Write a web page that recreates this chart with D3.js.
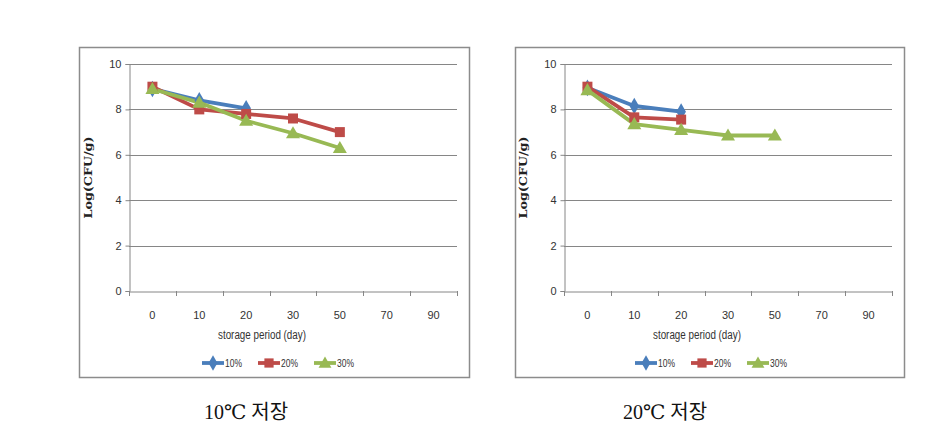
<!DOCTYPE html>
<html><head><meta charset="utf-8">
<script src="https://cdn.jsdelivr.net/npm/d3@7"></script>
<style>
html,body{margin:0;padding:0;background:#fff;}
svg{display:block;}
</style></head>
<body>
<svg id="c" width="936" height="429"></svg>
<script>
const categories = ["0","10","20","30","50","70","90"];
const yTicks = [0,2,4,6,8,10];
const seriesNames = ["10%","20%","30%"];
const seriesColors = ["#4a7ebb","#be4b48","#98b954"];
const seriesShapes = ["diamond","square","triangle"];
// 10℃ storage
const left10 = [8.9, 8.4, 8.05];
const left20 = [9.0, 8.0, 7.8, 7.6, 7.0];
const left30 = [8.9, 8.3, 7.5, 6.95, 6.3];
// 20℃ storage
const right10 = [8.95, 8.15, 7.9];
const right20 = [9.0, 7.65, 7.55];
const right30 = [8.85, 7.35, 7.1, 6.85, 6.85];
const captions = ["10℃ 저장","20℃ 저장"];
const yTitle = "Log(CFU/g)";
const xTitle = "storage period (day)";

const svg = d3.select("#c");
const symMap = {diamond:d3.symbolDiamond, square:d3.symbolSquare, triangle:d3.symbolTriangle};
const symSize = {diamond:80, square:100, triangle:85};
const narrow = "'Liberation Sans Narrow','Arial Narrow','Liberation Sans',sans-serif";

function drawChart(cfg, data){
  const g = svg.append("g");
  g.append("rect").attr("x",cfg.bx0+0.5).attr("y",cfg.by0+0.5)
    .attr("width",cfg.bx1-cfg.bx0).attr("height",cfg.by1-cfg.by0)
    .attr("fill","#fff").attr("stroke","#8c8c8c").attr("stroke-width",1.5);
  const x = d3.scaleBand().domain(categories).range([cfg.pl,cfg.pr]).padding(0);
  const y = d3.scaleLinear().domain([0,10]).range([cfg.pb,cfg.pt]);
  // gridlines
  g.append("g").selectAll("line").data(yTicks.filter(d=>d>0)).join("line")
    .attr("x1",cfg.pl).attr("x2",cfg.pr)
    .attr("y1",d=>Math.round(y(d))+0.5).attr("y2",d=>Math.round(y(d))+0.5)
    .attr("stroke","#868686").attr("stroke-width",1);
  // y axis
  const ya = g.append("g").attr("transform",`translate(${cfg.pl+0.5},0)`)
    .call(d3.axisLeft(y).tickValues(yTicks).tickSize(4).tickPadding(4));
  ya.select(".domain").attr("stroke","#868686");
  ya.selectAll(".tick line").attr("stroke","#868686");
  ya.selectAll("text").attr("font-family",narrow).attr("font-size",11).attr("fill","#333");
  // x axis
  const xa = g.append("g").attr("transform",`translate(0,${Math.round(cfg.pb)+0.5})`)
    .call(d3.axisBottom(x).tickSize(0).tickPadding(20));
  xa.select(".domain").attr("stroke","#868686");
  xa.selectAll("text").attr("font-family",narrow).attr("font-size",11).attr("fill","#333");
  // category boundary ticks
  const bounds = categories.map(c=>x(c)).concat([x(categories[categories.length-1])+x.bandwidth()]);
  g.append("g").selectAll("line").data(bounds).join("line")
    .attr("x1",d=>Math.round(d)+0.5).attr("x2",d=>Math.round(d)+0.5)
    .attr("y1",cfg.pb).attr("y2",cfg.pb+5).attr("stroke","#868686");
  // titles
  g.append("text").attr("transform",`translate(${cfg.pl-37},${(cfg.pt+cfg.pb)/2})} rotate(-90)`.replace("}",""))
    .attr("text-anchor","middle").attr("font-family","'DejaVu Serif','Liberation Serif',serif")
    .attr("font-weight","bold").attr("font-size",11).attr("fill","#222")
    .attr("textLength",82).attr("lengthAdjust","spacingAndGlyphs").text(yTitle);
  g.append("text").attr("x",cfg.pl+133).attr("y",cfg.pb+48)
    .attr("text-anchor","middle").attr("font-family",narrow)
    .attr("font-size",12).attr("fill","#333")
    .attr("textLength",88).attr("lengthAdjust","spacingAndGlyphs").text(xTitle);
  // series
  const line = d3.line().x((d,i)=>x(categories[i])+x.bandwidth()/2).y(d=>y(d));
  data.forEach((vals,si)=>{
    g.append("path").datum(vals).attr("d",line).attr("fill","none")
      .attr("stroke",seriesColors[si]).attr("stroke-width",3.8).attr("stroke-linejoin","round");
  });
  data.forEach((vals,si)=>{
    const sh = seriesShapes[si];
    g.append("g").selectAll("path").data(vals).join("path")
      .attr("transform",(d,i)=>`translate(${x(categories[i])+x.bandwidth()/2},${y(d)+(sh==="triangle"?1:0)})`)
      .attr("d",d3.symbol().type(symMap[sh]).size(symSize[sh]))
      .attr("fill",seriesColors[si]);
  });
  // legend
  seriesNames.forEach((nm,si)=>{
    const lx = cfg.legX + si*56, ly = cfg.by0+316;
    g.append("line").attr("x1",lx).attr("x2",lx+22).attr("y1",ly).attr("y2",ly)
      .attr("stroke",seriesColors[si]).attr("stroke-width",3.8);
    const sh = seriesShapes[si];
    g.append("path").attr("transform",`translate(${lx+11},${ly+(sh==="triangle"?1:0)})`)
      .attr("d",d3.symbol().type(symMap[sh]).size(symSize[sh]*0.85)).attr("fill",seriesColors[si]);
    g.append("text").attr("x",lx+23).attr("y",ly+4)
      .attr("font-family",narrow).attr("font-size",11).attr("fill","#333")
      .attr("textLength",17).attr("lengthAdjust","spacingAndGlyphs").text(nm);
  });
  // caption
  svg.append("text").attr("x",cfg.capX).attr("y",419).attr("text-anchor","middle")
    .attr("font-family","'Liberation Serif','DejaVu Serif','Noto Sans CJK KR',serif")
    .attr("font-size",20).attr("fill","#111").text(cfg.caption);
}

drawChart({bx0:79,by0:47,bx1:469,by1:377,pl:129,pr:457,pt:64,pb:291,legX:202,capX:246,caption:captions[0]},
  [left10,left20,left30]);
drawChart({bx0:515,by0:47,bx1:904,by1:377,pl:564,pr:892,pt:64,pb:291,legX:635,capX:665,caption:captions[1]},
  [right10,right20,right30]);
</script>
</body></html>
